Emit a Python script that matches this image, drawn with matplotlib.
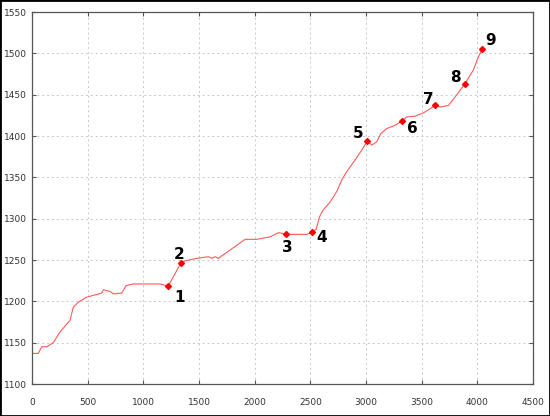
import matplotlib
matplotlib.use("Agg")
import matplotlib.pyplot as plt
from matplotlib.patches import Rectangle

# line trace
xs = [0, 57, 87, 132, 191, 252, 341, 371, 416, 491, 626, 641, 701, 731, 806,
      845, 910, 1150, 1210, 1222, 1336, 1375, 1480, 1584, 1614, 1644, 1674,
      1704, 1779, 1914, 2019, 2139, 2213, 2258, 2282, 2468, 2519, 2552, 2582,
      2612, 2677, 2738, 2783, 2827, 2902, 2962, 3013, 3052, 3097, 3133, 3187,
      3261, 3322, 3366, 3441, 3516, 3624, 3666, 3741, 3816, 3888, 3965, 4010,
      4046]
ys = [1137, 1137, 1145, 1145, 1150, 1163, 1177, 1193, 1199, 1205, 1210, 1214,
      1212, 1209, 1210, 1219, 1221, 1221, 1219, 1218, 1246, 1249, 1252, 1254,
      1252, 1254, 1252, 1255, 1262, 1275, 1275, 1278, 1283, 1282, 1281, 1281,
      1284, 1287, 1302, 1310, 1320, 1333, 1347, 1357, 1371, 1383, 1394, 1389,
      1393, 1403, 1409, 1413, 1418, 1423, 1424, 1428, 1437, 1435, 1437, 1450,
      1463, 1480, 1496, 1505]

# numbered points
mx = [1222, 1336, 2282, 2519, 3013, 3322, 3624, 3888, 4046]
my = [1218, 1246, 1281, 1284, 1394, 1418, 1437, 1463, 1505]
labels = ["1", "2", "3", "4", "5", "6", "7", "8", "9"]
offsets = [(12, -11), (-2, 9), (1, -13), (9, -6), (-9, 7),
           (11, -7), (-7, 6), (-9, 6), (8, 9)]

fig = plt.figure(figsize=(5.5, 4.16), dpi=100)
ax = fig.add_axes([32 / 550, 32 / 416, 501 / 550, 372 / 416])

ax.plot(xs, ys, color="#ff5a5a", lw=0.8)
ax.plot(mx, my, "D", color="red", ms=3, mec="red")
for x, y, t, (dx, dy) in zip(mx, my, labels, offsets):
    ax.annotate(t, (x, y), xytext=(dx, dy), textcoords="offset pixels",
                ha="center", va="center", fontsize=11, fontweight="bold")

ax.set_xlim(0, 4500)
ax.set_ylim(1100, 1550)
ax.set_xticks(range(0, 4501, 500))
ax.set_yticks(range(1100, 1551, 50))
ax.grid(True, ls=(0, (2, 3)), color="#c8c8c8", lw=0.7)
ax.tick_params(direction="in", top=True, right=True, length=3,
               labelsize=6.5, colors="#555555", labelcolor="#333333")
ax.tick_params(axis="x", pad=10)
for s in ax.spines.values():
    s.set_color("#555555")
    s.set_linewidth(0.9)

fig.patches.append(Rectangle((0, 0), 1, 1, transform=fig.transFigure,
                             fill=False, ec="black", lw=2))

plt.savefig("out.png", dpi=100)
plt.close()
